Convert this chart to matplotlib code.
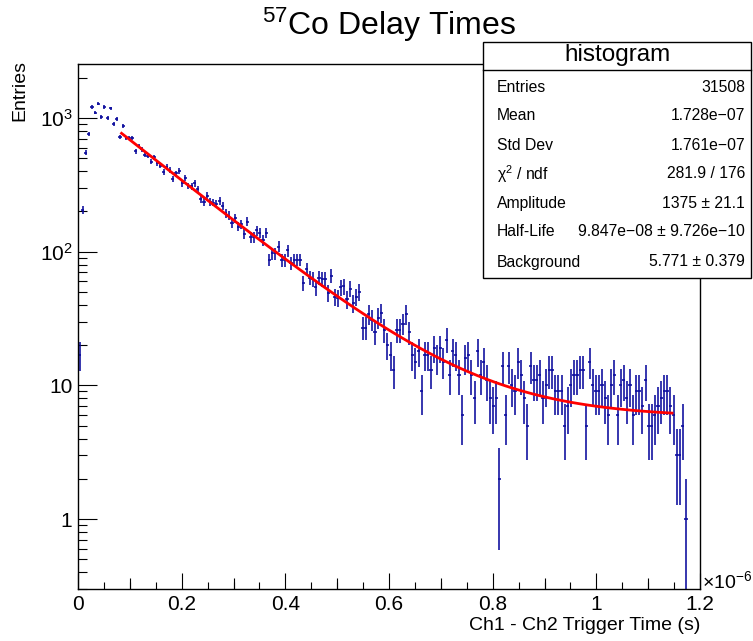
import numpy as np
import matplotlib.pyplot as plt
from matplotlib.patches import Rectangle
from matplotlib.lines import Line2D
from matplotlib.ticker import FixedLocator, FixedFormatter, FuncFormatter, MultipleLocator, NullFormatter

# ROOT-like look: Helvetica-ish font everywhere
plt.rcParams['font.family'] = ['Liberation Sans', 'DejaVu Sans']
plt.rcParams['mathtext.fontset'] = 'custom'
plt.rcParams['mathtext.rm'] = 'Liberation Sans'
plt.rcParams['mathtext.it'] = 'Liberation Sans:italic'
plt.rcParams['mathtext.bf'] = 'Liberation Sans:bold'

# Histogram: 200 bins of 6 ns from 0 to 1.2 us
x_min = 0.0
x_max = 1.2e-6
counts = [
    17, 205, 550, 755, 1210, 1094, 1278, 1017, 1210, 995,
    1180, 906, 980, 721, 867, 705, 705, 705, 561, 618,
    584, 530, 522, 472, 506, 459, 440, 397, 431, 407,
    349, 384, 402, 324, 358, 310, 307, 324, 294, 247,
    236, 262, 236, 233, 229, 240, 220, 193, 186, 164,
    178, 154, 160, 136, 168, 128, 128, 144, 139, 122,
    139, 87, 97, 97, 109, 86, 86, 102, 82, 87,
    87, 87, 58, 74, 64, 62, 54, 64, 62, 62,
    49, 66, 46, 45, 54, 55, 44, 53, 41, 46,
    50, 27, 27, 34, 31, 25, 32, 35, 26, 20,
    17, 13, 26, 26, 29, 34, 25, 17, 15, 18,
    9, 17, 17, 13, 19, 16, 19, 15, 22, 12,
    18, 17, 12, 6, 16, 17, 12, 8, 18, 12,
    15, 11, 8, 7, 8, 2, 14, 6, 14, 10,
    9, 15, 12, 8, 5, 14, 11, 11, 12, 8,
    10, 13, 13, 9, 9, 9, 5, 7, 10, 12,
    12, 13, 13, 5, 15, 10, 9, 9, 10, 8,
    6, 10, 12, 6, 10, 11, 8, 10, 6, 9,
    9, 7, 11, 5, 5, 6, 7, 8, 9, 9,
    7, 6, 3, 3, 5, 1, 0, 0, 0, 0,
]

# Fit result (A * 2^(-t/T) + B) as shown in the stats box
amplitude = 1375.0
half_life = 9.847e-08
background = 5.771
fit_range = (0.084e-6, 1.146e-6)

stat_labels = ['Entries', 'Mean', 'Std Dev', r'$\mathrm{\chi}^{2}$ / ndf', 'Amplitude', 'Half-Life', 'Background']
stat_values = ['31508', '1.728e\u221207', '1.761e\u221207', '281.9 / 176',
               '1375 \u00b1 21.1', '9.847e\u221208 \u00b1 9.726e\u221210', '5.771 \u00b1 0.379']

y_ticks = [1, 10, 100, 1000]
y_tick_labels = ['1', '10', '$10^{2}$', '$10^{3}$']

W, H = 753, 641
fig = plt.figure(figsize=(W / 100, H / 100), dpi=100)
ax = fig.add_axes([78 / W, 1 - 589 / H, 622 / W, 525 / H])

counts = np.array(counts, dtype=float)
edges = np.linspace(x_min, x_max, len(counts) + 1)
centers = 0.5 * (edges[:-1] + edges[1:])
bin_w = edges[1] - edges[0]
nz = counts > 0

blue = '#0a0a9c'
ax.errorbar(centers[nz], counts[nz], xerr=bin_w / 2, yerr=np.sqrt(counts[nz]),
            fmt='none', ecolor=blue, elinewidth=1.15, capsize=0)

# fitted function
t = np.linspace(fit_range[0], fit_range[1], 100)
ax.plot(t, amplitude * 2 ** (-t / half_life) + background, color='red', lw=2.0)

ax.set_yscale('log')
ax.set_xlim(x_min, x_max)
ax.set_ylim(0.3, 2530)

# axes ticks, ROOT style (inside, only bottom/left)
ax.xaxis.set_major_locator(MultipleLocator(0.2e-6))
ax.xaxis.set_minor_locator(MultipleLocator(0.05e-6))
ax.xaxis.set_major_formatter(FuncFormatter(lambda v, p: '%g' % round(v * 1e6, 3)))
ax.yaxis.set_major_locator(FixedLocator(y_ticks))
ax.yaxis.set_major_formatter(FixedFormatter(y_tick_labels))
ax.yaxis.set_minor_locator(FixedLocator([m * d for d in [0.1, 1, 10, 100, 1000] for m in range(2, 10)]))
ax.yaxis.set_minor_formatter(NullFormatter())
ax.tick_params(axis='both', which='both', direction='in', top=False, right=False,
               width=0.8, labelsize=15, color='black')
ax.tick_params(axis='x', which='major', length=11.4, pad=4)
ax.tick_params(axis='x', which='minor', length=5.3)
ax.tick_params(axis='y', which='major', length=13.5, pad=4)
ax.tick_params(axis='y', which='minor', length=6.7)

# medium ticks at the 0.1 marks
sec = ax.secondary_xaxis('bottom')
sec.set_xticks(np.arange(0.1e-6, 1.2e-6, 0.2e-6))
sec.tick_params(direction='in', length=7.9, width=0.8, labelbottom=False)
sec.spines['bottom'].set_visible(False)

for s in ax.spines.values():
    s.set_linewidth(1.0)
    s.set_color('black')

# titles and axis labels
fig.text(389 / W, 1 - 25 / H, r'${}^{57}$Co Delay Times', ha='center', va='center', fontsize=23)
fig.text(20 / W, 1 - 60 / H, 'Entries', rotation=90, ha='center', va='top', fontsize=14)
fig.text(700 / W, 1 - 625 / H, 'Ch1 - Ch2 Trigger Time (s)', ha='right', va='center', fontsize=14)
fig.text(702 / W, 1 - 581 / H, r'$\times10^{-6}$', ha='left', va='center', fontsize=14)

# stats box
box = Rectangle((483 / W, 1 - 278 / H), 268 / W, 236 / H, transform=fig.transFigure,
                facecolor='white', edgecolor='black', lw=1.0, zorder=10)
fig.add_artist(box)
fig.add_artist(Line2D([483 / W, 751 / W], [1 - 70 / H, 1 - 70 / H], transform=fig.transFigure,
                      color='black', lw=1.0, zorder=11))
fig.text(617 / W, 1 - 55 / H, 'histogram', ha='center', va='center', fontsize=17.5, zorder=12)
row_y = [87, 116, 145, 174, 203, 232, 262]
for lab, val, yy in zip(stat_labels, stat_values, row_y):
    fig.text(497 / W, 1 - yy / H, lab, ha='left', va='center', fontsize=11.3, zorder=12)
    fig.text(745 / W, 1 - yy / H, val, ha='right', va='center', fontsize=11.3, zorder=12)

fig.savefig('out.png', dpi=100)
